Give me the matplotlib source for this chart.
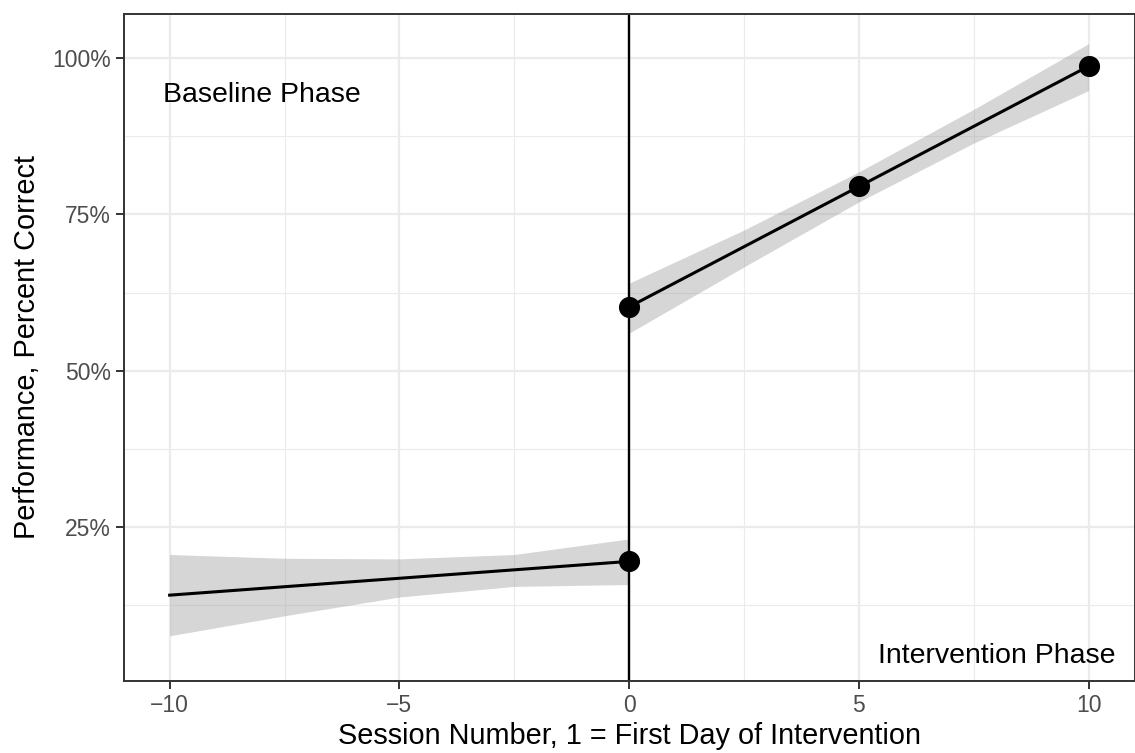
import matplotlib
matplotlib.use("Agg")
import matplotlib.pyplot as plt
from matplotlib.ticker import FixedLocator, FuncFormatter

plt.rcParams['font.family'] = ['Liberation Sans', 'DejaVu Sans']

# ---- data ----
point_session = [0, 0, 5, 10]
point_perf = [19.5, 60.2, 79.6, 98.7]

baseline_fit_x = [-10, 0]
baseline_fit_y = [14.1, 19.5]
baseline_band_x = [-10, -7.5, -5, -2.5, 0]
baseline_band_lo = [7.6, 10.8, 13.8, 15.5, 15.8]
baseline_band_hi = [20.6, 20.0, 19.9, 20.6, 23.1]

interv_fit_x = [0, 10]
interv_fit_y = [60.2, 98.7]
interv_band_x = [0, 2.5, 5, 7.5, 10]
interv_band_lo = [56.0, 66.6, 77.0, 86.4, 94.8]
interv_band_hi = [64.0, 72.5, 81.8, 91.8, 102.3]

x_ticks = [-10, -5, 0, 5, 10]
x_minor = [-7.5, -2.5, 2.5, 7.5]
y_ticks = [25, 50, 75, 100]
y_minor = [12.5, 37.5, 62.5, 87.5]

fig = plt.figure(figsize=(11.35, 7.53), dpi=100)
ax = fig.add_axes([123.7 / 1135, 1 - 681 / 753, (1134.5 - 123.7) / 1135, (681 - 13.7) / 753])

# grid
for xv in x_minor:
    ax.axvline(xv, color='#EBEBEB', lw=0.8, zorder=0)
for yv in y_minor:
    ax.axhline(yv, color='#EBEBEB', lw=0.8, zorder=0)
for xv in x_ticks:
    ax.axvline(xv, color='#EBEBEB', lw=1.6, zorder=0)
for yv in y_ticks:
    ax.axhline(yv, color='#EBEBEB', lw=1.6, zorder=0)

# bands
ax.fill_between(baseline_band_x, baseline_band_lo, baseline_band_hi,
                color='#999999', alpha=0.4, lw=0, zorder=1)
ax.fill_between(interv_band_x, interv_band_lo, interv_band_hi,
                color='#999999', alpha=0.4, lw=0, zorder=1)

# fit lines
ax.plot(baseline_fit_x, baseline_fit_y, color='black', lw=2.2, zorder=2)
ax.plot(interv_fit_x, interv_fit_y, color='black', lw=2.2, zorder=2)

# phase change line
ax.axvline(0, color='black', lw=1.7, zorder=3)

# points
ax.plot(point_session, point_perf, 'o', color='black', markersize=14.2, zorder=4)

# annotations
ax.text(-8, 94.1, 'Baseline Phase', ha='center', va='center', fontsize=20.5, color='black')
ax.text(8, 4.3, 'Intervention Phase', ha='center', va='center', fontsize=20.5, color='black')

ax.set_xlim(-11, 11)
ax.set_ylim(0.37, 107.1)

ax.xaxis.set_major_locator(FixedLocator(x_ticks))
ax.yaxis.set_major_locator(FixedLocator(y_ticks))
ax.yaxis.set_major_formatter(FuncFormatter(lambda v, p: f"{int(v)}%"))
ax.xaxis.set_major_formatter(FuncFormatter(lambda v, p: f"{int(v)}".replace('-', '\u2212')))

ax.tick_params(axis='both', length=5.5, width=1.4, color='#333333',
               labelcolor='#4D4D4D', labelsize=16.5, pad=3.5)

for s in ax.spines.values():
    s.set_color('#333333')
    s.set_linewidth(1.4)
    s.set_zorder(5)

ax.set_xlabel('Session Number, 1 = First Day of Intervention', fontsize=20.8, color='black', labelpad=4)
ax.set_ylabel('Performance, Percent Correct', fontsize=20.8, color='black', labelpad=8)

fig.savefig('out.png', dpi=100)
